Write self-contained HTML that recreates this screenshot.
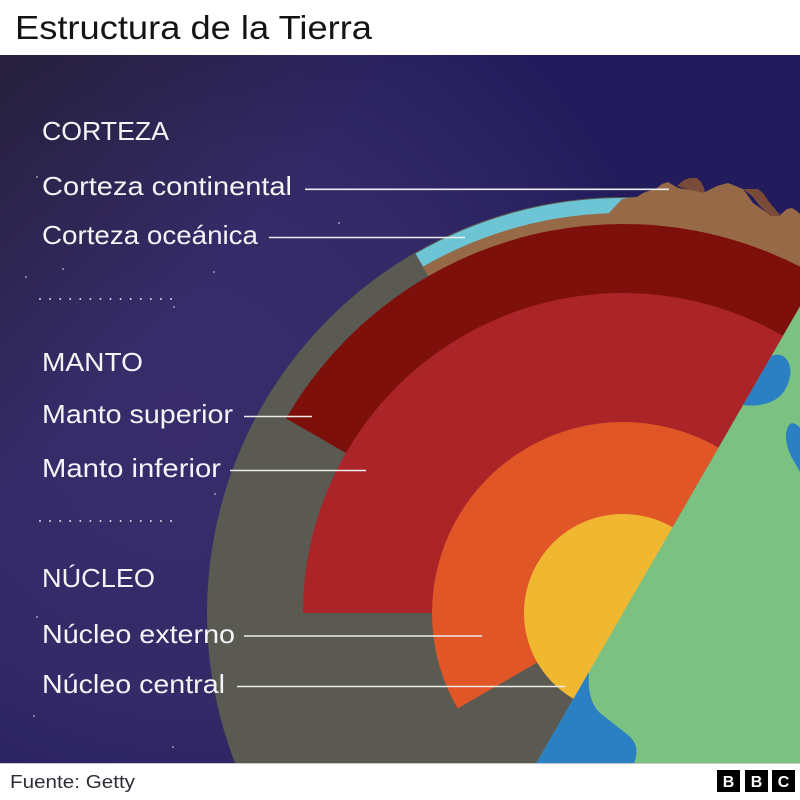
<!DOCTYPE html>
<html>
<head>
<meta charset="utf-8">
<style>
html,body{margin:0;padding:0;background:#fff;width:800px;height:800px;overflow:hidden;}
svg{display:block;position:absolute;left:0;top:0;}
</style>
</head>
<body>
<svg width="800" height="800" viewBox="0 0 800 800" xmlns="http://www.w3.org/2000/svg">
<defs>
<clipPath id="area"><rect x="0" y="55" width="800" height="708"/></clipPath>
<radialGradient id="glow" cx="180" cy="420" r="500" gradientUnits="userSpaceOnUse">
<stop offset="0" stop-color="#382d6a"/>
<stop offset="0.55" stop-color="#342a68"/>
<stop offset="1" stop-color="#231c5c"/>
</radialGradient>
<linearGradient id="corner" x1="0" y1="55" x2="220" y2="260" gradientUnits="userSpaceOnUse">
<stop offset="0" stop-color="#262038" stop-opacity="0.9"/>
<stop offset="1" stop-color="#262038" stop-opacity="0"/>
</linearGradient>
</defs>

<rect x="0" y="0" width="800" height="55" fill="#ffffff"/>
<text x="15" y="39" font-family="Liberation Sans, sans-serif" font-size="33" fill="#141414" textLength="357" lengthAdjust="spacingAndGlyphs">Estructura de la Tierra</text>

<g clip-path="url(#area)">
<rect x="0" y="55" width="800" height="708" fill="#231c5c"/>
<rect x="0" y="55" width="800" height="708" fill="url(#glow)"/>
<rect x="0" y="55" width="800" height="708" fill="url(#corner)"/>

<g fill="#bdb8d0">
<circle cx="37" cy="177" r="0.9"/>
<circle cx="26" cy="277" r="0.9"/>
<circle cx="63" cy="269" r="0.9"/>
<circle cx="214" cy="272" r="0.9"/>
<circle cx="174" cy="307" r="0.9"/>
<circle cx="339" cy="223" r="0.9"/>
<circle cx="215" cy="494" r="0.9"/>
<circle cx="37" cy="617" r="0.9"/>
<circle cx="173" cy="747" r="0.9"/>
<circle cx="34" cy="716" r="0.9"/>
</g>

<path d="M800,236.5 A416,416 0 0 0 235,763 L800,763 Z" fill="#5a5a52"/>
<path d="M623,613 L830.5,253.6 A415,415 0 0 0 415.5,253.6 Z" fill="#6cc4d4"/>
<path d="M623,613 L823,266.6 A400,400 0 0 0 423,266.6 Z" fill="#976a47"/>
<path d="M606,216 L622,199 L637,197 L643,193 L657,188 L662,184 L668,182 L673,185 L678,188 L705,192 L717,186 L728,183 L733,185 L743,189 L753,203 L770,215 L780,215 L787,209 L792,208 L798,212 L800,214 L800,300 L620,300 Z" fill="#976a47"/>
<path d="M677,186 L684,180 L690,178 L697,178 L701,182 L704,188 L705,193 L690,190 Z" fill="#7b4b39"/>
<path d="M743,189 L750,189 L758,189 L763,193 L770,203 L775,209 L781,216 L770,216 L760,206 L752,196 Z" fill="#7b4b39"/>
<path d="M623,613 L800,306.4 L800,266.6 A389,389 0 0 0 286.1,418.5 Z" fill="#7d100a"/>
<path d="M623,613 L783,335.9 A320,320 0 0 0 303,613 Z" fill="#aa2428"/>
<path d="M623,613 L718.5,447.6 A191,191 0 0 0 457.6,708.5 Z" fill="#e05626"/>
<circle cx="623" cy="613" r="99" fill="#f0b831"/>

<path d="M800,306.4 L536.4,763 L800,763 Z" fill="#7bc181"/>
<path d="M588.9,672 C588,690 590,703 600,713 L628,735 C638,743 638,754 634,763 L536.4,763 Z" fill="#2b7fc3"/>
<path d="M771.4,356 C785,350 794,365 789,380 C785,398 768,408 743.1,405 Z" fill="#2b7fc3"/>
<path d="M790,424 C784,430 785,445 792,458 L800,472 L800,428 C797,424 793,422 790,424 Z" fill="#2b7fc3"/>

<g stroke="#ececec" stroke-width="1.6">
<line x1="305" y1="189.3" x2="669" y2="189.3"/>
<line x1="269" y1="237.5" x2="465" y2="237.5"/>
<line x1="244" y1="416.5" x2="312" y2="416.5"/>
<line x1="230" y1="470.5" x2="366" y2="470.5"/>
<line x1="244" y1="636" x2="482" y2="636"/>
<line x1="237" y1="686.5" x2="565" y2="686.5"/>
</g>

<g fill="#d8d6e4">
<circle cx="40" cy="299" r="1"/><circle cx="50.1" cy="299" r="1"/><circle cx="60.2" cy="299" r="1"/><circle cx="70.2" cy="299" r="1"/><circle cx="80.3" cy="299" r="1"/><circle cx="90.4" cy="299" r="1"/><circle cx="100.5" cy="299" r="1"/><circle cx="110.5" cy="299" r="1"/><circle cx="120.6" cy="299" r="1"/><circle cx="130.7" cy="299" r="1"/><circle cx="140.8" cy="299" r="1"/><circle cx="150.8" cy="299" r="1"/><circle cx="160.9" cy="299" r="1"/><circle cx="171" cy="299" r="1"/>
<circle cx="40" cy="521" r="1"/><circle cx="50.1" cy="521" r="1"/><circle cx="60.2" cy="521" r="1"/><circle cx="70.2" cy="521" r="1"/><circle cx="80.3" cy="521" r="1"/><circle cx="90.4" cy="521" r="1"/><circle cx="100.5" cy="521" r="1"/><circle cx="110.5" cy="521" r="1"/><circle cx="120.6" cy="521" r="1"/><circle cx="130.7" cy="521" r="1"/><circle cx="140.8" cy="521" r="1"/><circle cx="150.8" cy="521" r="1"/><circle cx="160.9" cy="521" r="1"/><circle cx="171" cy="521" r="1"/>
</g>

<g font-family="Liberation Sans, sans-serif" font-size="26" fill="#f4f4f6">
<text x="42" y="140" textLength="127" lengthAdjust="spacingAndGlyphs">CORTEZA</text>
<text x="42" y="195" textLength="250" lengthAdjust="spacingAndGlyphs">Corteza continental</text>
<text x="42" y="244" textLength="216" lengthAdjust="spacingAndGlyphs">Corteza oceánica</text>
<text x="42" y="371" textLength="101" lengthAdjust="spacingAndGlyphs">MANTO</text>
<text x="42" y="423" textLength="191" lengthAdjust="spacingAndGlyphs">Manto superior</text>
<text x="42" y="477" textLength="179" lengthAdjust="spacingAndGlyphs">Manto inferior</text>
<text x="42" y="587" textLength="113" lengthAdjust="spacingAndGlyphs">NÚCLEO</text>
<text x="42" y="643" textLength="193" lengthAdjust="spacingAndGlyphs">Núcleo externo</text>
<text x="42" y="693" textLength="183" lengthAdjust="spacingAndGlyphs">Núcleo central</text>
</g>
</g>

<rect x="0" y="763" width="800" height="37" fill="#ffffff"/>
<line x1="0" y1="763.5" x2="800" y2="763.5" stroke="#c8c8cc" stroke-width="1"/>
<text x="10" y="788" font-family="Liberation Sans, sans-serif" font-size="18" fill="#2e2e36" textLength="125" lengthAdjust="spacingAndGlyphs">Fuente: Getty</text>
<rect x="717" y="770" width="23" height="22" fill="#000"/>
<rect x="745" y="770" width="23" height="22" fill="#000"/>
<rect x="772" y="770" width="23" height="22" fill="#000"/>
<g font-family="Liberation Sans, sans-serif" font-size="16" font-weight="bold" fill="#fff" text-anchor="middle">
<text x="728.5" y="787">B</text>
<text x="756.5" y="787">B</text>
<text x="783.5" y="787">C</text>
</g>
</svg>
</body>
</html>
